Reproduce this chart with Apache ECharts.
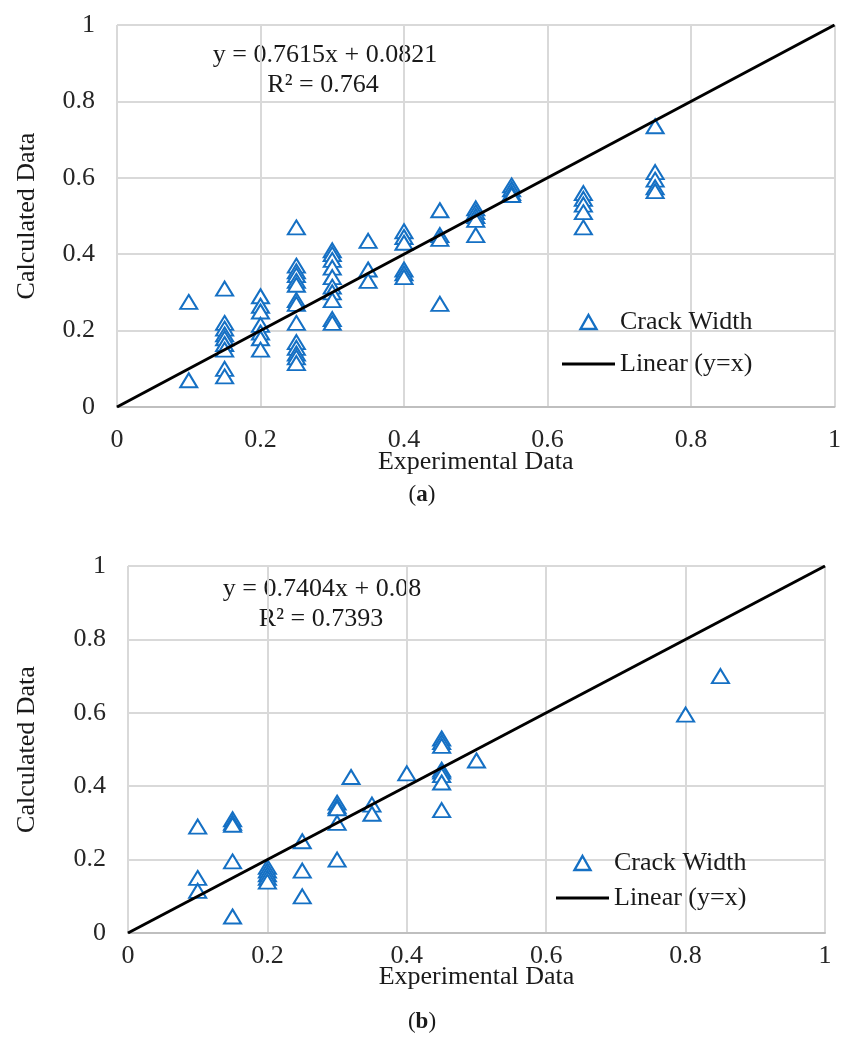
<!DOCTYPE html>
<html>
<head>
<meta charset="utf-8">
<title>Crack Width</title>
<script src="https://cdn.jsdelivr.net/npm/echarts@6/dist/echarts.min.js"></script>
<style>
  html, body { margin: 0; padding: 0; background: #fff; }
  #main { width: 844px; height: 1039px; }
</style>
</head>
<body>
<div id="main"></div>
<script>
// chart (a) - experimental vs calculated
var expA = [0.1, 0.1,
  0.15, 0.15, 0.15, 0.15, 0.15, 0.15, 0.15, 0.15, 0.15,
  0.2, 0.2, 0.2, 0.2, 0.2, 0.2, 0.2,
  0.25, 0.25, 0.25, 0.25, 0.25, 0.25, 0.25, 0.25, 0.25, 0.25, 0.25, 0.25, 0.25, 0.25,
  0.3, 0.3, 0.3, 0.3, 0.3, 0.3, 0.3, 0.3, 0.3, 0.3,
  0.35, 0.35, 0.35,
  0.4, 0.4, 0.4, 0.4, 0.4, 0.4,
  0.45, 0.45, 0.45, 0.45,
  0.5, 0.5, 0.5, 0.5, 0.5,
  0.55, 0.55, 0.55, 0.55,
  0.65, 0.65, 0.65, 0.65, 0.65,
  0.75, 0.75, 0.75, 0.75, 0.75];
var calcA = [0.275, 0.07,
  0.31, 0.22, 0.205, 0.19, 0.18, 0.165, 0.15, 0.10, 0.08,
  0.29, 0.265, 0.25, 0.215, 0.195, 0.18, 0.15,
  0.47, 0.37, 0.355, 0.345, 0.33, 0.32, 0.28, 0.27, 0.22, 0.17, 0.155, 0.14, 0.13, 0.115,
  0.41, 0.40, 0.385, 0.365, 0.34, 0.315, 0.30, 0.28, 0.23, 0.22,
  0.435, 0.36, 0.33,
  0.46, 0.445, 0.43, 0.36, 0.35, 0.34,
  0.515, 0.45, 0.44, 0.27,
  0.52, 0.51, 0.50, 0.49, 0.45,
  0.58, 0.57, 0.56, 0.555,
  0.56, 0.545, 0.53, 0.51, 0.47,
  0.735, 0.615, 0.595, 0.575, 0.565];

// chart (b)
var expB = [0.1, 0.1, 0.1,
  0.15, 0.15, 0.15, 0.15, 0.15,
  0.2, 0.2, 0.2, 0.2, 0.2,
  0.25, 0.25, 0.25,
  0.3, 0.3, 0.3, 0.3, 0.3,
  0.32,
  0.35, 0.35,
  0.4,
  0.45, 0.45, 0.45, 0.45, 0.45, 0.45, 0.45, 0.45,
  0.5, 0.8, 0.85];
var calcB = [0.29, 0.15, 0.115,
  0.31, 0.30, 0.295, 0.195, 0.045,
  0.18, 0.17, 0.16, 0.15, 0.14,
  0.25, 0.17, 0.10,
  0.355, 0.345, 0.34, 0.30, 0.20,
  0.425,
  0.35, 0.325,
  0.435,
  0.53, 0.52, 0.51, 0.445, 0.44, 0.43, 0.41, 0.335,
  0.47, 0.595, 0.70];

// y = x reference line
var lineX = [0, 1];
var lineY = [0, 1];

var eqA = ['y = 0.7615x + 0.0821', 'R\u00b2 = 0.764'];
var eqB = ['y = 0.7404x + 0.08', 'R\u00b2 = 0.7393'];

var font = 'Liberation Serif';
var blue = '#1570c4';
var fs = 26;

function pairs(xs, ys) {
  var out = [];
  for (var i = 0; i < xs.length; i++) out.push([xs[i], ys[i]]);
  return out;
}

function xAx(idx, margin, gap) {
  return {
    type: 'value', gridIndex: idx, min: 0, max: 1, interval: 0.2,
    name: 'Experimental Data', nameLocation: 'middle', nameGap: gap,
    nameMoveOverlap: false,
    nameTextStyle: { fontFamily: font, fontSize: fs, color: '#1a1a1a' },
    axisLine: { show: true, lineStyle: { color: '#bfbfbf', width: 2 } },
    axisTick: { show: false },
    axisLabel: { fontFamily: font, fontSize: fs, color: '#262626', margin: margin },
    splitLine: { show: true, lineStyle: { color: '#d9d9d9', width: 2 } }
  };
}

function yAx(idx, gap) {
  return {
    type: 'value', gridIndex: idx, min: 0, max: 1, interval: 0.2,
    name: 'Calculated Data', nameLocation: 'middle', nameGap: gap,
    nameMoveOverlap: false,
    nameTextStyle: { fontFamily: font, fontSize: fs, color: '#1a1a1a' },
    axisLine: { show: false },
    axisTick: { show: false },
    axisLabel: { fontFamily: font, fontSize: fs, color: '#262626', margin: 22, padding: [4, 0, 0, 0] },
    splitLine: { show: true, lineStyle: { color: '#d9d9d9', width: 2 } }
  };
}

function scatter(idx, xs, ys) {
  return {
    name: 'Crack Width', type: 'scatter', xAxisIndex: idx, yAxisIndex: idx,
    symbol: 'emptyTriangle', symbolSize: [17, 14],
    itemStyle: { color: blue, borderColor: blue, borderWidth: 2.8, opacity: 1 },
    data: pairs(xs, ys), z: 3
  };
}

function refLine(idx) {
  return {
    name: 'Linear (y=x)', type: 'line', xAxisIndex: idx, yAxisIndex: idx,
    symbol: 'none', showSymbol: false, lineStyle: { color: '#000', width: 3 },
    itemStyle: { color: '#000' },
    data: pairs(lineX, lineY), z: 4
  };
}

function legendAt(left, top, gap) {
  return {
    orient: 'vertical', left: left, top: top,
    itemWidth: 53, itemHeight: 14, itemGap: gap,
    symbolKeepAspect: true,
    textStyle: { fontFamily: font, fontSize: fs, color: '#1a1a1a' },
    data: [
      { name: 'Crack Width', icon: 'path://M8,0L16,14L0,14Z', itemStyle: { color: '#fff', borderColor: blue, borderWidth: 2.4, opacity: 1 } },
      { name: 'Linear (y=x)', icon: 'path://M0,0H53V3H0Z', itemStyle: { color: '#000', borderWidth: 0 } }
    ],
    selectedMode: false
  };
}

function textAt(x, y, str) {
  return {
    type: 'text', x: x, y: y,
    style: { text: str, fontFamily: font, fontSize: fs, fill: '#1a1a1a', align: 'center', verticalAlign: 'middle' }
  };
}

function caption(x, y, letter) {
  return {
    type: 'text', x: x, y: y,
    style: {
      text: '(' + '{b|' + letter + '})',
      fontFamily: font, fontSize: 23, fill: '#1a1a1a', align: 'center', verticalAlign: 'middle',
      rich: { b: { fontFamily: font, fontSize: 23, fontWeight: 'bold', fill: '#1a1a1a' } }
    }
  };
}

var chart = echarts.init(document.getElementById('main'));
var option = {
  backgroundColor: '#fff',
  animation: false,
  grid: [
    { left: 117, top: 25, width: 722, height: 382 },
    { left: 128, top: 566, width: 697, height: 367 }
  ],
  xAxis: [xAx(0, 20, 42), xAx(1, 10, 31)],
  yAxis: [yAx(0, 77), yAx(1, 88)],
  legend: [legendAt(557, 304, 16), legendAt(551, 845, 9)],
  series: [scatter(0, expA, calcA), refLine(0), scatter(1, expB, calcB), refLine(1)],
  graphic: [
    textAt(325, 55, eqA[0]),
    textAt(323, 85, eqA[1]),
    textAt(322, 589, eqB[0]),
    textAt(321, 619, eqB[1]),
    caption(422, 495, 'a'),
    caption(422, 1022, 'b')
  ]
};
chart.setOption(option);
</script>
</body>
</html>
